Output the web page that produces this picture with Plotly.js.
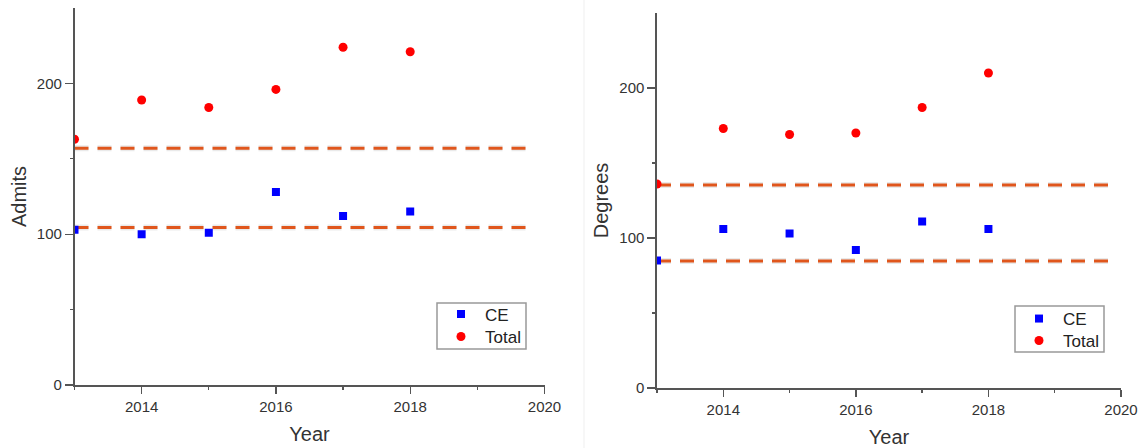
<!DOCTYPE html>
<html>
<head>
<meta charset="utf-8">
<script src="https://cdn.plot.ly/plotly-3.0.1.min.js"></script>
<style>html,body{margin:0;padding:0;background:#fff;}#chart{width:1144px;height:448px;}</style>
</head>
<body>
<div id="chart"></div>
<script>
// Data
const years = [2013, 2014, 2015, 2016, 2017, 2018];
const admitsCE = [103, 100, 101, 128, 112, 115];
const admitsTotal = [163, 189, 184, 196, 224, 221];
const degreesCE = [85, 106, 103, 92, 111, 106];
const degreesTotal = [136, 173, 169, 170, 187, 210];
const admitsRefLines = [157, 104.5];
const degreesRefLines = [135.3, 84.7];
const refLineYears = [2013, 2019.85];
const xTickVals = [2014, 2016, 2018, 2020];
const xMinorVals = [2013, 2015, 2017, 2019];
const yTickVals = [0, 100, 200];
const yMinorVals = [50, 150];

const FONT = "Liberation Sans, Arial, sans-serif";
const dashColor = "#e0561c";

function refTraces(vals, xa, ya) {
  const out = [];
  vals.forEach(v => {
    out.push({x: refLineYears, y: [v, v], xaxis: xa, yaxis: ya, mode: "lines", showlegend: false,
      hoverinfo: "skip", line: {color: "rgba(90,90,90,0.13)", width: 6, dash: "14px,9px"}});
    out.push({x: refLineYears, y: [v, v], xaxis: xa, yaxis: ya, mode: "lines", showlegend: false,
      line: {color: dashColor, width: 3, dash: "14px,9px"}});
  });
  return out;
}

const traces = [
  ...refTraces(admitsRefLines, "x", "y"),
  ...refTraces(degreesRefLines, "x2", "y2"),
  {x: years, y: admitsCE, xaxis: "x", yaxis: "y", mode: "markers", name: "CE", legend: "legend",
   marker: {symbol: "square", size: 8, color: "#0000ff"}},
  {x: years, y: admitsTotal, xaxis: "x", yaxis: "y", mode: "markers", name: "Total", legend: "legend3",
   marker: {symbol: "circle", size: 9, color: "#ff0000"}},
  {x: years, y: degreesCE, xaxis: "x2", yaxis: "y2", mode: "markers", name: "CE", legend: "legend2",
   marker: {symbol: "square", size: 8, color: "#0000ff"}},
  {x: years, y: degreesTotal, xaxis: "x2", yaxis: "y2", mode: "markers", name: "Total", legend: "legend4",
   marker: {symbol: "circle", size: 9, color: "#ff0000"}}
];

function xAxis(domain, anchor) {
  return {domain: domain, anchor: anchor, range: [2013, 2020], tickvals: xTickVals,
    showgrid: false, zeroline: false, showline: true, linecolor: "#555", linewidth: 1.6,
    ticks: "outside", ticklen: 7, tickwidth: 1.4, tickcolor: "#555",
    minor: {tickvals: xMinorVals, ticklen: 3, tickwidth: 1.3, tickcolor: "#555", ticks: "outside", showgrid: false},
    tickfont: {family: FONT, size: 15, color: "#333"},
    title: {text: "Year", font: {family: FONT, size: 20, color: "#333"}, standoff: 13}};
}
function yAxis(domain, anchor, label) {
  return {domain: domain, anchor: anchor, range: [0, 250], tickvals: yTickVals,
    showgrid: false, zeroline: false, showline: true, linecolor: "#555", linewidth: 1.6,
    ticks: "outside", ticklen: 8, tickwidth: 1.4, tickcolor: "#555",
    minor: {tickvals: yMinorVals, ticklen: 3, tickwidth: 1.3, tickcolor: "#555", ticks: "outside", showgrid: false},
    tickfont: {family: FONT, size: 15, color: "#333"},
    title: {text: label, font: {family: FONT, size: 20, color: "#333"}, standoff: 5}};
}

function leg(xpx, ypx) {
  return {x: xpx/1144, y: 1 - ypx/448, xanchor: "left", yanchor: "middle", bgcolor: "rgba(0,0,0,0)",
    borderwidth: 0, itemwidth: 38, font: {family: FONT, size: 17, color: "#222"}};
}

const layout = {
  width: 1144, height: 448,
  margin: {l: 0, r: 0, t: 0, b: 0},
  paper_bgcolor: "#fff", plot_bgcolor: "#fff",
  font: {family: FONT, color: "#333"},
  xaxis: xAxis([74.5/1144, 544.5/1144], "y"),
  yaxis: yAxis([(448-385)/448, (448-8)/448], "x", "Admits"),
  xaxis2: xAxis([657/1144, 1121/1144], "y2"),
  yaxis2: yAxis([(448-388)/448, (448-13)/448], "x2", "Degrees"),
  legend: leg(437, 314.5),
  legend3: leg(437, 337),
  legend2: leg(1015, 319),
  legend4: leg(1015, 341),
  shapes: [
    {type: "line", xref: "paper", yref: "paper", x0: 584/1144, x1: 584/1144, y0: 0, y1: 1,
      line: {color: "#efefef", width: 1}},
    {type: "rect", xref: "paper", yref: "paper", x0: 437/1144, x1: 526/1144, y0: 1 - 349/448, y1: 1 - 303/448,
      line: {color: "#999", width: 1.5}, fillcolor: "rgba(0,0,0,0)"},
    {type: "rect", xref: "paper", yref: "paper", x0: 1015/1144, x1: 1104/1144, y0: 1 - 352/448, y1: 1 - 306/448,
      line: {color: "#999", width: 1.5}, fillcolor: "rgba(0,0,0,0)"}
  ],
  showlegend: true
};

Plotly.newPlot("chart", traces, layout, {displayModeBar: false, staticPlot: true});
</script>
</body>
</html>
